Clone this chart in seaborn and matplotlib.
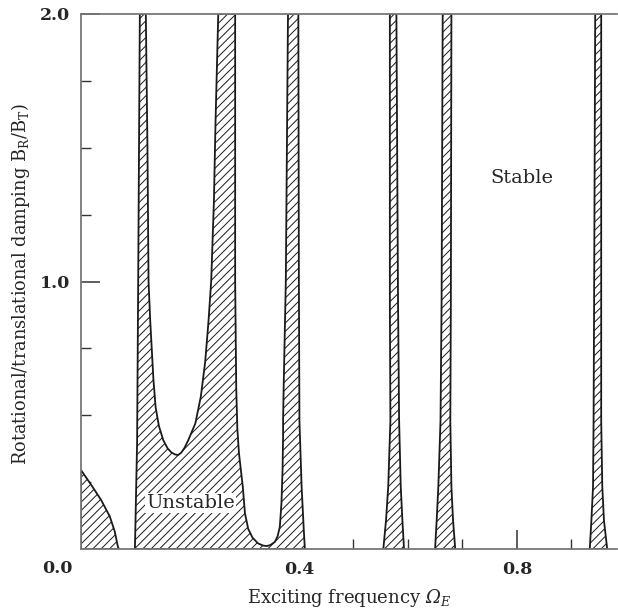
import numpy as np
import pandas as pd
import matplotlib
matplotlib.use("Agg")
import matplotlib.pyplot as plt
import seaborn as sns

# ---- data (x = Omega_E, y = B_R/B_T) ----
# corner region near the origin
corner_x = [0.0, 0.0, 0.019, 0.037, 0.053, 0.062, 0.068, 0.070]
corner_y = [0.0, 0.295, 0.239, 0.183, 0.121, 0.065, 0.006, 0.0]

# big connected region: bands 1-3 with the two valleys
band1_left_x = [0.108, 0.105, 0.103, 0.100, 0.099]
band1_left_y = [2.0, 1.0, 0.4, 0.1, 0.0]
band1_right_x = [0.119, 0.122, 0.124, 0.127, 0.133, 0.137, 0.143, 0.151, 0.159, 0.166, 0.172, 0.178]
band1_right_y = [2.0, 1.5, 1.0, 0.856, 0.632, 0.53, 0.46, 0.407, 0.376, 0.361, 0.354, 0.351]
band2_left_x = [0.252, 0.247, 0.244, 0.239, 0.234, 0.228, 0.220, 0.210, 0.197, 0.190, 0.184, 0.178]
band2_left_y = [2.0, 1.6, 1.3, 1.0, 0.85, 0.7, 0.57, 0.47, 0.407, 0.378, 0.360, 0.351]
band2_right_x = [0.283, 0.283, 0.285, 0.287, 0.290, 0.297, 0.301, 0.307, 0.315, 0.325, 0.334, 0.341]
band2_right_y = [2.0, 1.0, 0.6, 0.45, 0.358, 0.233, 0.133, 0.075, 0.042, 0.021, 0.013, 0.011]
band3_left_x = [0.380, 0.376, 0.372, 0.371, 0.371, 0.370, 0.368, 0.365, 0.361, 0.356, 0.348, 0.341]
band3_left_y = [2.0, 1.0, 0.6, 0.482, 0.42, 0.295, 0.171, 0.083, 0.048, 0.027, 0.015, 0.011]
band3_right_x = [0.399, 0.400, 0.401, 0.405, 0.409, 0.411]
band3_right_y = [2.0, 1.0, 0.48, 0.233, 0.071, 0.0]

# narrow bands
band4_left_x = [0.567, 0.567, 0.568, 0.564, 0.560, 0.555]
band4_right_x = [0.579, 0.582, 0.584, 0.587, 0.590, 0.593]
band5_left_x = [0.664, 0.662, 0.660, 0.656, 0.653, 0.650]
band5_right_x = [0.680, 0.679, 0.678, 0.680, 0.683, 0.687]
band6_left_x = [0.944, 0.942, 0.941, 0.940, 0.937, 0.934]
band6_right_x = [0.955, 0.955, 0.955, 0.957, 0.960, 0.966]
band_y = [2.0, 0.93, 0.48, 0.233, 0.108, 0.0]

x_ticks = [0.4, 0.8]
x_tick_labels = ["0.4", "0.8"]
y_ticks = [1.0, 2.0]
y_tick_labels = ["1.0", "2.0"]

sns.set_style("ticks")
plt.rcParams["font.family"] = ["DejaVu Serif"]
plt.rcParams["mathtext.fontset"] = "custom"
plt.rcParams["mathtext.rm"] = "DejaVu Serif:italic"
plt.rcParams["mathtext.it"] = "DejaVu Serif:italic"
plt.rcParams["mathtext.sf"] = "DejaVu Serif"
plt.rcParams["hatch.linewidth"] = 0.7

fig = plt.figure(figsize=(6.18, 6.15), dpi=100)
ax = fig.add_axes([81 / 618, 1 - 549 / 615, 536 / 618, 535 / 615])

LINE = "#1a1a1a"


def region(xs, ys):
    ax.fill(xs, ys, facecolor="white", edgecolor=LINE, hatch="////",
            linewidth=0, zorder=1)
    df = pd.DataFrame({"x": xs + [xs[0]], "y": ys + [ys[0]]})
    sns.lineplot(data=df, x="x", y="y", sort=False, estimator=None,
                 color=LINE, linewidth=1.3, ax=ax, zorder=2)


region(corner_x, corner_y)

big_x = (band1_left_x[::-1] + band1_right_x + band2_left_x[::-1] +
         band2_right_x + band3_left_x[::-1] + band3_right_x)
big_y = (band1_left_y[::-1] + band1_right_y + band2_left_y[::-1] +
         band2_right_y + band3_left_y[::-1] + band3_right_y)
region(big_x, big_y)

for lx, rx in [(band4_left_x, band4_right_x), (band5_left_x, band5_right_x),
               (band6_left_x, band6_right_x)]:
    region(lx + rx[::-1], band_y + band_y[::-1])

ax.set_xlim(0, 0.984)
ax.set_ylim(0, 2.0)

ax.set_xticks(x_ticks)
ax.set_xticklabels(x_tick_labels, fontsize=12.5, fontweight="bold")
ax.set_xticks(np.arange(0.1, 0.98, 0.1), minor=True)
ax.set_yticks(y_ticks)
ax.set_yticklabels(y_tick_labels, fontsize=12.5, fontweight="bold")
ax.set_yticks([0.25, 0.5, 0.75, 1.25, 1.5, 1.75], minor=True)
ax.tick_params(which="major", direction="in", length=14, width=1.1, color="#333", pad=8)
ax.tick_params(which="minor", direction="in", length=7, width=1.0, color="#333")
ax.tick_params(axis="x", which="major", pad=9)

ax.text(-0.016, -0.036, "0.0", transform=ax.transAxes, ha="right", va="center",
        fontsize=12.5, fontweight="bold")

for s in ["left", "top", "bottom"]:
    ax.spines[s].set_color("#777777")
    ax.spines[s].set_linewidth(1.3)
    ax.spines[s].set_zorder(3)
ax.spines["right"].set_visible(False)

ax.set_xlabel(r"Exciting frequency $\Omega_{E}$", fontsize=13, labelpad=6)
ax.set_ylabel(r"Rotational/translational damping B$_\mathsf{R}$/B$_\mathsf{T}$)",
              fontsize=12.8)
ax.yaxis.set_label_coords(-0.092, 0.495)

ax.text(0.809, 1.387, "Stable", fontsize=14, ha="center", va="center", zorder=4)
ax.text(0.201, 0.172, "Unstable", fontsize=14, ha="center", va="center", zorder=4,
        bbox=dict(facecolor="white", edgecolor="none", pad=1.0))

fig.savefig("out.png", dpi=100)
